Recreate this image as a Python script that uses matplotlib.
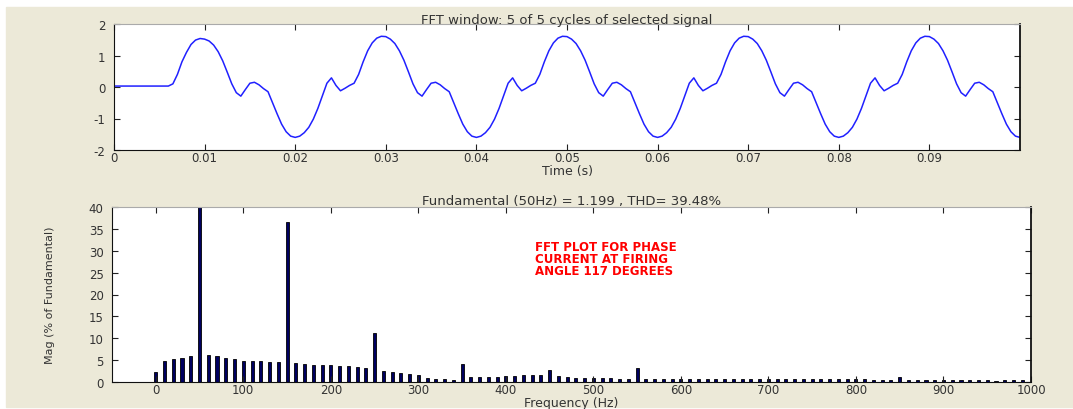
import numpy as np
import matplotlib.pyplot as plt
from matplotlib.patches import Rectangle

# ---- upper plot: selected signal, one sample every 0.5 ms ----
t = np.linspace(0, 0.1, 201)

# first cycle: zero until the thyristor fires, then the current
first_cycle = [0.03] * 13 + [0.10, 0.40, 0.80, 1.10, 1.35, 1.49, 1.54, 1.52,
               1.46, 1.33, 1.12, 0.83, 0.47, 0.10, -0.18, -0.29, -0.08, 0.12,
               0.15, 0.07, -0.05, -0.15, -0.50, -0.85, -1.18, -1.42, -1.56]
# steady state cycle (same in the 4 following cycles)
cycle = [-1.60, -1.56, -1.45, -1.28, -1.02, -0.68, -0.28, 0.12, 0.29, 0.05,
         -0.12, -0.04, 0.05, 0.12, 0.40, 0.80, 1.15, 1.40, 1.55, 1.61,
         1.60, 1.52, 1.38, 1.15, 0.85, 0.48, 0.10, -0.18, -0.29, -0.08,
         0.12, 0.15, 0.07, -0.05, -0.15, -0.50, -0.85, -1.18, -1.42, -1.56]
current = first_cycle + cycle * 4 + [-1.60]

time_ticks = [0, 0.01, 0.02, 0.03, 0.04, 0.05, 0.06, 0.07, 0.08, 0.09]
time_labels = ['0', '0.01', '0.02', '0.03', '0.04', '0.05', '0.06', '0.07', '0.08', '0.09']

# ---- lower plot: harmonic spectrum (% of fundamental) ----
freq = np.arange(0, 1000, 10)
mag = [2.3, 4.9, 5.2, 5.5, 6.0, 100.0, 6.2, 5.9, 5.5, 5.2,   # 0-90
       4.9, 4.8, 4.8, 4.6, 4.6, 36.6, 4.4, 4.2, 3.9, 3.9,    # 100-190
       3.9, 3.6, 3.6, 3.4, 3.2, 11.2, 2.5, 2.3, 2.0, 1.8,    # 200-290
       1.5, 1.0, 0.7, 0.6, 0.5, 4.2, 1.1, 1.1, 1.1, 1.1,     # 300-390
       1.3, 1.4, 1.6, 1.6, 1.6, 2.7, 1.4, 1.1, 1.0, 1.0,     # 400-490
       1.0, 1.0, 0.9, 0.8, 0.7, 3.2, 0.7, 0.6, 0.6, 0.6,     # 500-590
       0.6, 0.6, 0.6, 0.6, 0.6, 0.6, 0.7, 0.6, 0.6, 0.6,     # 600-690
       0.6, 0.6, 0.6, 0.6, 0.7, 0.6, 0.6, 0.6, 0.6, 0.6,     # 700-790
       0.6, 0.6, 0.5, 0.5, 0.5, 1.1, 0.5, 0.5, 0.5, 0.5,     # 800-890
       0.5, 0.5, 0.5, 0.5, 0.5, 0.5, 0.3, 0.5, 0.5, 0.5]     # 900-990
freq_ticks = [0, 100, 200, 300, 400, 500, 600, 700, 800, 900, 1000]
mag_ticks = [0, 5, 10, 15, 20, 25, 30, 35, 40]

bg = '#ece9d8'
txt = '#333333'

fig = plt.figure(figsize=(10.73, 4.10), dpi=100, facecolor='w')
fig.patches.append(Rectangle((6 / 1073, 2 / 410), 1 - 6 / 1073, 1 - 10 / 410,
                             transform=fig.transFigure, color=bg, zorder=-10))

def style(ax):
    ax.tick_params(direction='in', top=True, right=True, length=4, pad=1,
                   labelsize=8.5, labelcolor=txt, color='#222222')
    ax.tick_params(axis='y', pad=6)
    for s in ['left', 'bottom', 'right']:
        ax.spines[s].set_color('#111111')
    ax.spines['top'].set_color('#aaaaaa')
    ax.spines['right'].set_linewidth(1.3)

# top axes
ax1 = fig.add_axes([114 / 1073, 1 - 151 / 410, 906 / 1073, 126 / 410])
ax1.plot(t, current, color='#2020ff', lw=1.1)
ax1.set_xlim(0, 0.1)
ax1.set_ylim(-2, 2)
ax1.set_xticks(time_ticks)
ax1.set_xticklabels(time_labels)
ax1.set_yticks([-2, -1, 0, 1, 2])
ax1.set_yticklabels(['-2', '-1', '0', '1', '2'])
style(ax1)
ax1.set_title('FFT window: 5 of 5 cycles of selected signal', fontsize=9.5,
              color=txt, pad=1)
ax1.set_xlabel('Time (s)', fontsize=9, color=txt, labelpad=0)

# bottom axes
ax2 = fig.add_axes([112 / 1073, 1 - 383 / 410, 919 / 1073, 175 / 410])
ax2.bar(freq, mag, width=3.5, color='#000060', edgecolor='k', linewidth=0.6)
ax2.set_xlim(-50, 1000)
ax2.set_ylim(0, 40)
ax2.set_xticks(freq_ticks)
ax2.set_yticks(mag_ticks)
style(ax2)
ax2.set_title('Fundamental (50Hz) = 1.199 , THD= 39.48%', fontsize=9.5,
              color=txt, pad=2)
ax2.set_xlabel('Frequency (Hz)', fontsize=9, color=txt, labelpad=0)
ax2.set_ylabel('Mag (% of Fundamental)', fontsize=8, color=txt, labelpad=24)

ax2.text(0.46, 0.81, 'FFT PLOT FOR PHASE\nCURRENT AT FIRING\nANGLE 117 DEGREES',
         transform=ax2.transAxes, color='red', fontsize=8.5, fontweight='bold',
         va='top', ha='left', linespacing=0.9)

fig.savefig('out.png', dpi=100, facecolor=fig.get_facecolor())
